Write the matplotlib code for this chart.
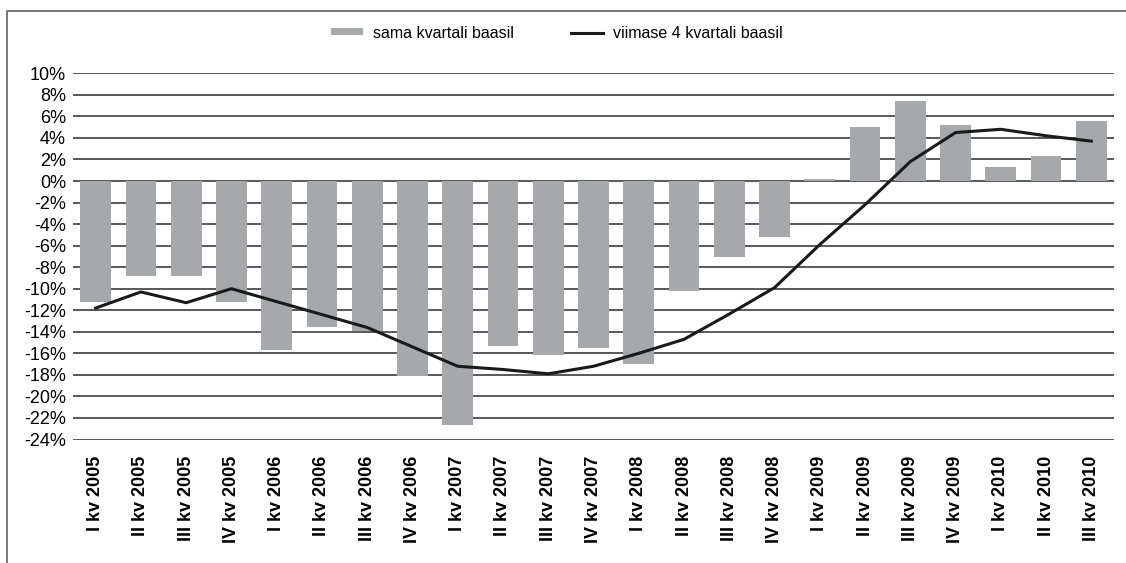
import numpy as np
import matplotlib.pyplot as plt
from matplotlib.patches import Rectangle, Patch
from matplotlib.lines import Line2D

plt.rcParams['font.family'] = ['Liberation Sans', 'DejaVu Sans']

quarters = ["I kv 2005", "II kv 2005", "III kv 2005", "IV kv 2005",
            "I kv 2006", "II kv 2006", "III kv 2006", "IV kv 2006",
            "I kv 2007", "II kv 2007", "III kv 2007", "IV kv 2007",
            "I kv 2008", "II kv 2008", "III kv 2008", "IV kv 2008",
            "I kv 2009", "II kv 2009", "III kv 2009", "IV kv 2009",
            "I kv 2010", "II kv 2010", "III kv 2010"]

# same quarter of previous year (%)
same_quarter = [-11.2, -8.8, -8.8, -11.2, -15.7, -13.6, -13.9, -18.1,
                -22.7, -15.3, -16.2, -15.5, -17.0, -10.2, -7.1, -5.2,
                0.2, 5.0, 7.4, 5.2, 1.3, 2.3, 5.6]

# last 4 quarters (%)
last_four = [-11.8, -10.3, -11.3, -10.0, -11.2, -12.4, -13.6, -15.4,
             -17.2, -17.5, -17.9, -17.2, -16.0, -14.7, -12.35, -9.9,
             -5.9, -2.2, 1.8, 4.5, 4.8, 4.2, 3.7]

yticks = list(range(-24, 11, 2))

W, H = 1126, 563
fig = plt.figure(figsize=(W / 100, H / 100), dpi=100)
ax = fig.add_axes([73 / W, 1 - 439.5 / H, (1114 - 73) / W, (439.5 - 73.3) / H])

x = np.arange(len(quarters))
ax.set_axisbelow(True)
ax.yaxis.grid(True, color='#2b2b2b', linewidth=1.1)
ax.bar(x, same_quarter, width=0.68, color='#a7a8ac', zorder=2)
ax.plot(x, last_four, color='#1a1a1a', linewidth=2.2, zorder=3)

ax.set_xlim(-0.5, len(quarters) - 0.5)
ax.set_ylim(-24, 10)
ax.set_yticks(yticks)
ax.set_yticklabels([f"{v}%" for v in yticks], fontsize=13)
ax.set_xticks(x)
ax.set_xticklabels(quarters, rotation=90, fontsize=13, fontweight='bold')
ax.tick_params(length=0)
ax.tick_params(axis='x', pad=12)
ax.tick_params(axis='y', pad=5)
for s in ax.spines.values():
    s.set_visible(False)

# outer frame (right and bottom edges fall outside the picture)
fig.patches.append(Rectangle((7 / W, -0.1), 1.2, 1 - 11 / H + 0.1,
                             transform=fig.transFigure, fill=False,
                             edgecolor='#6e6e6e', linewidth=1.3))

handles = [Patch(facecolor='#a7a8ac', edgecolor='none'),
           Line2D([], [], color='#1a1a1a', linewidth=2.2)]
fig.legend(handles, ["sama kvartali baasil", "viimase 4 kvartali baasil"],
           loc='center', bbox_to_anchor=(557 / W, 1 - 33 / H), ncol=2,
           frameon=False, fontsize=11.5, handlelength=2.0, handleheight=0.3,
           columnspacing=3.6, handletextpad=0.6)

fig.savefig("out.png", dpi=100)
